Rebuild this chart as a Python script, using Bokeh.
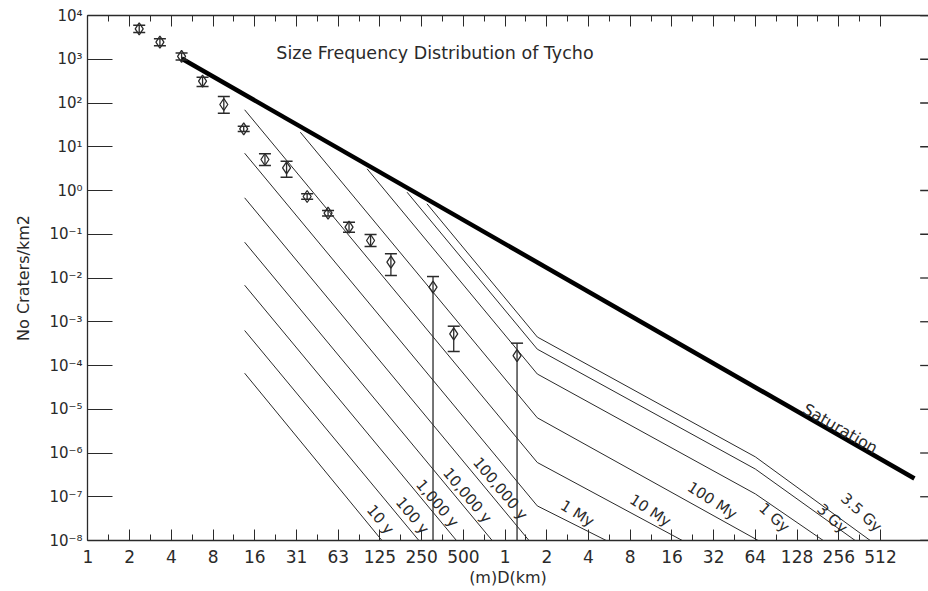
import math
from bokeh.plotting import figure
from bokeh.models import (FixedTicker, CustomJSTickFormatter, LogAxis, Range1d,
                          ColumnDataSource, Label)
from bokeh.embed import file_html
from bokeh.resources import INLINE
from bokeh.core.properties import value

# ---------------- data ----------------
# crater counts of Tycho: diameter (km), cumulative density (per km2)
D_KM = [0.00229, 0.00323, 0.00463, 0.00656, 0.00934, 0.0130, 0.0185, 0.0265,
        0.0373, 0.0528, 0.0748, 0.107, 0.150, 0.302, 0.426, 1.22]
N_KM2 = [4970, 2450, 1160, 315, 92.4, 25.7, 5.11, 3.30,
         0.729, 0.303, 0.145, 0.0720, 0.0230, 0.00617, 5.31e-4, 1.69e-4]
N_UP = [6000, 2950, 1390, 389, 141, 29.5, 6.90, 4.68,
        0.84, 0.35, 0.188, 0.0986, 0.0357, 0.0108, 7.91e-4, 3.24e-4]
N_LO = [4100, 2030, 960, 238, 58.5, 22.4, 3.73, 2.01,
        0.63, 0.26, 0.111, 0.0525, 0.0114, 1e-10, 2.09e-4, 1e-10]

# saturation line
SAT_D = [0.00463, 899.5]
SAT_N = [1040, 2.61e-7]

# isochrons (production function for each age)
ISO_10Y_D = [0.0132, 0.1293]
ISO_10Y_N = [6.67e-5, 1e-8]
ISO_100Y_D = [0.0132, 0.2388]
ISO_100Y_N = [6.31e-4, 1e-8]
ISO_1KY_D = [0.0132, 0.4458]
ISO_1KY_N = [6.84e-3, 1e-8]
ISO_10KY_D = [0.0132, 0.807]
ISO_10KY_N = [0.0658, 1e-8]
ISO_100KY_D = [0.0132, 1.488]
ISO_100KY_N = [0.681, 1e-8]
ISO_1MY_D = [0.0132, 1.708, 5.37]
ISO_1MY_N = [7.12, 6.18e-8, 1e-8]
ISO_10MY_D = [0.0132, 1.708, 19.0]
ISO_10MY_N = [70.0, 6.07e-7, 1e-8]
ISO_100MY_D = [0.0333, 1.708, 67.1]
ISO_100MY_N = [21.5, 6.38e-6, 1e-8]
ISO_1GY_D = [0.1010, 1.708, 64.0, 197.7]
ISO_1GY_N = [3.13, 6.39e-5, 1.16e-7, 1e-8]
ISO_3GY_D = [0.1962, 1.708, 64.0, 336.0]
ISO_3GY_N = [0.914, 2.36e-4, 4.29e-7, 1e-8]
ISO_35GY_D = [0.2731, 1.708, 64.0, 431.8]
ISO_35GY_N = [0.497, 4.48e-4, 8.15e-7, 1e-8]

ISO_LABELS = ["10 y", "100 y", "1,000 y", "10,000 y", "100,000 y", "1 My",
              "10 My", "100 My", "1 Gy", "3 Gy", "3.5 Gy"]

# axis ticks
X_TICKS_KM = [2.0 ** k for k in range(-10, 10)]
X_TICK_LABELS = ["1", "2", "4", "8", "16", "31", "63", "125", "250", "500",
                 "1", "2", "4", "8", "16", "32", "64", "128", "256", "512"]
Y_TICKS = [10.0 ** k for k in range(-8, 5)]
Y_TICK_LABELS = ["10\u207b\u2078", "10\u207b\u2077", "10\u207b\u2076", "10\u207b\u2075",
                 "10\u207b\u2074", "10\u207b\u00b3", "10\u207b\u00b2", "10\u207b\u00b9",
                 "10\u2070", "10\u00b9", "10\u00b2", "10\u00b3", "10\u2074"]

# ---------------- figure ----------------
INK = "#2a2a2a"
FONT = "DejaVu Sans"

p = figure(frame_width=841, frame_height=525, x_axis_type="log", y_axis_type="log",
           x_range=Range1d(2 ** -10.01, 2 ** 10.15), y_range=Range1d(1e-8, 1e4),
           output_backend="svg", toolbar_location=None,
           min_border_left=87, min_border_right=0, min_border_top=15,
           min_border_bottom=51)
p.outline_line_color = None
p.grid.visible = False
p.background_fill_color = "white"

x_minor = [2.0 ** (k + 0.5) for k in range(-10, 9)]
x_fmt = CustomJSTickFormatter(args=dict(labels=X_TICK_LABELS), code="""
    const i = Math.round(Math.log2(tick)) + 10;
    return (i >= 0 && i < labels.length) ? labels[i] : "";
""")
y_fmt = CustomJSTickFormatter(args=dict(labels=Y_TICK_LABELS), code="""
    const i = Math.round(Math.log10(tick)) + 8;
    return (i >= 0 && i < labels.length) ? labels[i] : "";
""")

xa = p.xaxis[0]
xa.ticker = FixedTicker(ticks=X_TICKS_KM, minor_ticks=x_minor)
xa.formatter = x_fmt
xa.axis_label = "(m)D(km)"
ya = p.yaxis[0]
ya.ticker = FixedTicker(ticks=Y_TICKS, minor_ticks=[])
ya.formatter = y_fmt
ya.axis_label = "No Craters/km2"

for ax in (xa, ya):
    ax.axis_line_color = INK
    ax.axis_line_width = 1.3
    ax.major_tick_line_color = INK
    ax.minor_tick_line_color = INK
    ax.major_tick_out = 0
    ax.minor_tick_out = 0
    ax.major_label_text_color = INK
    ax.major_label_text_font = FONT
    ax.axis_label_text_color = INK
    ax.axis_label_text_font = FONT
    ax.axis_label_text_font_style = "normal"
    ax.axis_label_text_font_size = "16px"

xa.major_tick_in = 11
xa.minor_tick_in = 6
xa.major_label_text_font_size = "17px"
xa.major_label_standoff = 9
xa.axis_label_standoff = 2
ya.major_tick_in = 25
ya.minor_tick_in = 0
ya.major_label_text_font_size = "15px"
ya.major_label_standoff = 5
ya.axis_label_standoff = 13

top = LogAxis(ticker=FixedTicker(ticks=X_TICKS_KM, minor_ticks=x_minor),
              major_label_text_font_size="0px", major_label_text_color=None,
              major_label_standoff=0,
              axis_line_color=INK, axis_line_width=1.3,
              major_tick_line_color=INK, minor_tick_line_color=INK,
              major_tick_in=11, major_tick_out=0, minor_tick_in=6, minor_tick_out=0)
p.add_layout(top, "above")

# right-hand decade ticks (frame edge lies just beyond the picture)
p.segment(x0=[2 ** 9.95] * len(Y_TICKS), y0=Y_TICKS,
          x1=[2 ** 10.3] * len(Y_TICKS), y1=Y_TICKS, line_color=INK, line_width=1.3)

# isochrons
iso = [(ISO_10Y_D, ISO_10Y_N), (ISO_100Y_D, ISO_100Y_N), (ISO_1KY_D, ISO_1KY_N),
       (ISO_10KY_D, ISO_10KY_N), (ISO_100KY_D, ISO_100KY_N), (ISO_1MY_D, ISO_1MY_N),
       (ISO_10MY_D, ISO_10MY_N), (ISO_100MY_D, ISO_100MY_N), (ISO_1GY_D, ISO_1GY_N),
       (ISO_3GY_D, ISO_3GY_N), (ISO_35GY_D, ISO_35GY_N)]
for d, n in iso:
    p.line(d, n, line_color=INK, line_width=1)

# saturation
p.line(SAT_D, SAT_N, line_color="black", line_width=4.5)

# data with error bars
src = ColumnDataSource(dict(d=D_KM, n=N_KM2, up=N_UP, lo=N_LO))
p.segment(x0="d", y0="lo", x1="d", y1="up", source=src, line_color=INK, line_width=1.3)
p.scatter(x="d", y="up", source=src, marker="dash", size=12, line_color=INK, line_width=1.5)
p.scatter(x="d", y="lo", source=src, marker="dash", size=12, line_color=INK, line_width=1.5)
p.scatter(x="d", y="n", source=src, marker="diamond", size=12, fill_color=None,
          line_color=INK, line_width=1.3)

# labels for isochrons: (log2 D, log10 N, angle deg)
LBL_POS = [(-2.991, -7.52, -50), (-2.224, -7.43, -50), (-1.625, -7.154, -50),
           (-0.906, -6.971, -50), (-0.115, -6.811, -50), (1.731, -7.383, -32),
           (3.480, -7.314, -33), (4.966, -7.086, -33), (6.453, -7.474, -42),
           (7.843, -7.497, -42), (8.538, -7.36, -42)]
p.text(x=[2 ** a for a, b, c in LBL_POS], y=[10 ** b for a, b, c in LBL_POS],
       text=ISO_LABELS, angle=[math.radians(c) for a, b, c in LBL_POS],
       text_align="center", text_baseline="middle", text_font=value(FONT),
       text_font_size="15px", text_color=INK)

p.text(x=[2 ** 8.035], y=[10 ** -5.44], text=["Saturation"], angle=[math.radians(-30)],
       text_align="center", text_baseline="middle", text_font=value(FONT),
       text_font_size="16px", text_color=INK)

p.add_layout(Label(x=2 ** -5.484, y=10 ** 3.154, text="Size Frequency Distribution of Tycho",
                   text_align="left", text_baseline="middle", text_font=FONT,
                   text_font_size="17.5px", text_color=INK))

open("out.html", "w").write(file_html(p, INLINE))
